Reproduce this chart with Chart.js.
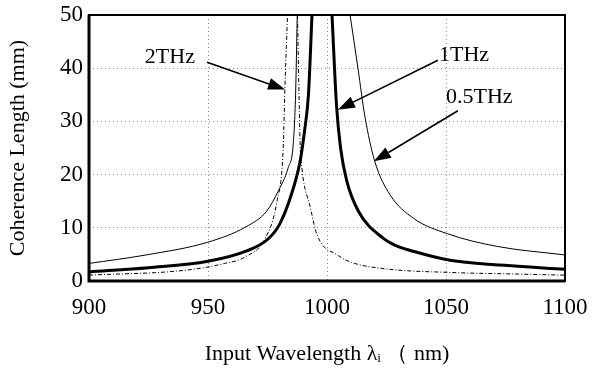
<!DOCTYPE html>
<html>
<head>
<meta charset="utf-8">
<script src="https://cdn.jsdelivr.net/npm/chart.js@4.4.0/dist/chart.umd.min.js"></script>
<style>
  html, body { margin: 0; padding: 0; background: #fff; }
  #wrap { width: 599px; height: 368px; }
</style>
</head>
<body>
<div id="wrap"><canvas id="chart" width="599" height="368"></canvas></div>
<script>
// wavelength (nm) / coherence length (mm), each branch of the resonance separately
const thz1LeftX = [900, 925, 950, 966, 975, 980, 985, 988.7, 990.5, 992.2, 993.7];
const thz1LeftY = [1.7, 2.5, 3.7, 5.6, 7.8, 10.6, 16.2, 22.5, 28, 35, 50];
const thz1RightX = [1002.1, 1004, 1005.7, 1008.3, 1013.2, 1023.7, 1029.2, 1037.7, 1051.7, 1072.7, 1100];
const thz1RightY = [50, 33, 25, 18.8, 13.1, 8.0, 6.6, 5.4, 3.9, 3.0, 2.2];

const thz05LeftX = [900, 924, 950, 966, 974.6, 979.5, 983.7, 985.8, 986.8, 987.5];
const thz05LeftY = [3.3, 4.9, 7.3, 10.2, 13.1, 16.9, 21.3, 25.7, 35, 50];
const thz05RightX = [1009.7, 1013, 1015.9, 1020, 1026.5, 1036.3, 1050.5, 1071.5, 1100];
const thz05RightY = [50, 40, 31, 22.6, 16.2, 11.8, 8.9, 6.5, 4.9];

const thz2LeftX = [900, 940, 957, 965.5, 974, 979, 981.6, 982.3, 983.4];
const thz2LeftY = [1.1, 2.0, 3.3, 4.5, 8, 15, 25, 36, 50];
const thz2RightX = [987.6, 988.7, 989.5, 992.9, 995.8, 1004.7, 1010.3, 1024.3, 1052.4, 1080.4, 1100];
const thz2RightY = [50, 26, 21, 14, 8.7, 4.8, 3.5, 2.3, 1.6, 1.3, 1.1];

const xTicks = [900, 950, 1000, 1050, 1100];
const yTicks = [0, 10, 20, 30, 40, 50];

// labels with arrows, in data units: [text, labelX, labelY, fromX, fromY, toX, toY]
const notes = [
  ['2THz', 934, 42, 949.6, 41.1, 982.4, 36],
  ['1THz', 1057.6, 42.4, 1046.6, 41.5, 1004.6, 32.2],
  ['0.5THz', 1064, 34.5, 1055, 32, 1019.7, 22.5]
];

const serif = '"Liberation Serif", "Times New Roman", serif';

function pts(xs, ys) {
  return xs.map((x, i) => ({ x: x, y: ys[i] }));
}

function curve(xs, ys, width, dash) {
  return {
    data: pts(xs, ys),
    borderColor: '#000',
    borderWidth: width,
    borderDash: dash,
    pointRadius: 0,
    fill: false,
    cubicInterpolationMode: 'monotone'
  };
}

const frame = {
  id: 'frame',
  afterDraw(chart) {
    const { ctx, chartArea: a } = chart;
    ctx.save();
    ctx.strokeStyle = '#000';
    ctx.lineWidth = 2;
    ctx.strokeRect(a.left, a.top, a.right - a.left, a.bottom - a.top);
    ctx.lineWidth = 3;
    ctx.beginPath();
    ctx.moveTo(a.left, a.top);
    ctx.lineTo(a.left, a.bottom);
    ctx.lineTo(a.right, a.bottom);
    ctx.stroke();
    ctx.restore();
  }
};

const arrows = {
  id: 'arrows',
  afterDraw(chart) {
    const { ctx } = chart;
    const xs = chart.scales.x, ys = chart.scales.y;
    ctx.save();
    ctx.fillStyle = '#000';
    ctx.strokeStyle = '#000';
    ctx.font = '22px ' + serif;
    ctx.textAlign = 'center';
    ctx.textBaseline = 'middle';
    notes.forEach(n => {
      ctx.fillText(n[0], xs.getPixelForValue(n[1]), ys.getPixelForValue(n[2]));
      const x0 = xs.getPixelForValue(n[3]), y0 = ys.getPixelForValue(n[4]);
      const x1 = xs.getPixelForValue(n[5]), y1 = ys.getPixelForValue(n[6]);
      const ang = Math.atan2(y1 - y0, x1 - x0);
      const len = 17, half = 6;
      const bx = x1 - len * Math.cos(ang), by = y1 - len * Math.sin(ang);
      ctx.lineWidth = 1.6;
      ctx.beginPath();
      ctx.moveTo(x0, y0);
      ctx.lineTo(bx, by);
      ctx.stroke();
      ctx.beginPath();
      ctx.moveTo(x1, y1);
      ctx.lineTo(bx + half * Math.sin(ang), by - half * Math.cos(ang));
      ctx.lineTo(bx - half * Math.sin(ang), by + half * Math.cos(ang));
      ctx.closePath();
      ctx.fill();
    });
    ctx.restore();
  }
};

new Chart(document.getElementById('chart'), {
  type: 'line',
  data: {
    datasets: [
      curve(thz05LeftX, thz05LeftY, 1, []),
      curve(thz05RightX, thz05RightY, 1, []),
      curve(thz2LeftX, thz2LeftY, 1, [4, 2, 1, 2]),
      curve(thz2RightX, thz2RightY, 1, [4, 2, 1, 2]),
      curve(thz1LeftX, thz1LeftY, 3, []),
      curve(thz1RightX, thz1RightY, 3, [])
    ]
  },
  options: {
    responsive: false,
    animation: false,
    layout: { padding: { top: 15, right: 34, left: 0, bottom: 0 } },
    plugins: { legend: { display: false }, tooltip: { enabled: false } },
    scales: {
      x: {
        type: 'linear',
        min: 900,
        max: 1100,
        afterBuildTicks: s => { s.ticks = xTicks.map(v => ({ value: v })); },
        afterFit: s => { s.height = 87; s.paddingLeft = 0; s.paddingRight = 0; },
        ticks: {
          color: '#000',
          padding: 13,
          font: { family: serif, size: 23 },
          callback: v => String(v)
        },
        grid: { color: '#888', lineWidth: 1, drawTicks: false },
        border: { display: false, dash: [1, 3] },
        title: {
          display: true,
          text: 'Input Wavelength λᵢ （ nm)',
          color: '#000',
          font: { family: serif, size: 22 },
          padding: { top: 0, bottom: 1 }
        }
      },
      y: {
        min: 0,
        max: 50,
        afterBuildTicks: s => { s.ticks = yTicks.map(v => ({ value: v })); },
        afterFit: s => { s.width = 89; s.paddingTop = 0; s.paddingBottom = 0; },
        ticks: {
          color: '#000',
          padding: 6,
          font: { family: serif, size: 23 },
          callback: v => String(v)
        },
        grid: { color: '#888', lineWidth: 1, drawTicks: false },
        border: { display: false, dash: [1, 3] },
        title: {
          display: true,
          text: 'Coherence Length (mm)',
          color: '#000',
          font: { family: serif, size: 22 },
          padding: { top: 5, bottom: 0 }
        }
      }
    }
  },
  plugins: [frame, arrows]
});
</script>
</body>
</html>
